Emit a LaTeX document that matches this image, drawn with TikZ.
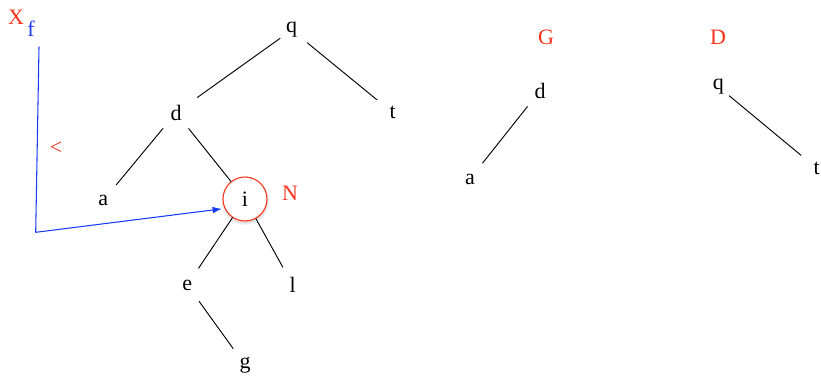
\documentclass[tikz,border=0pt]{standalone}
\usepackage{fontspec}
\setmainfont{Liberation Serif}
\usetikzlibrary{shadows,arrows.meta}

\definecolor{markred}{RGB}{250,50,25}
\definecolor{xfblue}{RGB}{25,60,250}

\begin{document}
\begin{tikzpicture}[x=0.75pt,y=-0.75pt,line cap=round,line join=round,
        font=\fontsize{16.5}{19}\selectfont,
        key/.style={circle,inner sep=0pt,minimum size=30pt},
        tag/.style={text=markred},
        branch/.style={line width=0.7pt}]
        \useasboundingbox (0,0) rectangle (821,376);

        % left tree
        \node[key] (q) at (291.7,30) {q};
        \node[key] (d) at (176,112.7) {d};
        \node[key] (t) at (392.7,112.7) {t};
        \node[key] (a) at (103.3,200.5) {a};
        \node[circle,draw=markred,line width=0.8pt,inner sep=0pt,minimum size=33pt,fill=white,
            circular drop shadow={shadow xshift=0pt,shadow yshift=-1pt,shadow scale=1.12,opacity=0.3}]
            (i) at (245,199) {i};
        \node[key] (e) at (187.3,285) {e};
        \node[key] (l) at (292.7,285) {l};
        \node[key] (g) at (245,365) {g};
        \node[tag] (N) at (290,193) {N};

        \draw[branch,shorten <=-4.5pt,shorten >=4.5pt] (q) -- (d);
        \draw[branch] (q) -- (t);
        \draw[branch] (d) -- (a);
        \draw[branch] (d) -- (i);
        \draw[branch] (i) -- (e);
        \draw[branch] (i) -- (l);
        \draw[branch] (e) -- (g);

        % X_f and the way down to i
        \node[tag] (X) at (16,17) {X};
        \node[text=xfblue] (f) at (31,29) {f};
        \node[tag] (less) at (56,148) {<};
        \coordinate (top) at (39,47);
        \coordinate (corner) at (35.7,232.3);
        \draw[xfblue,line width=0.8pt,-{Latex[length=7pt,width=5pt]},shorten >=2pt]
            (top) -- (corner) -- (i.205);

        % G and D
        \node[tag] (G) at (546,37) {G};
        \node[key] (gd) at (540,90.7) {d};
        \node[key] (ga) at (470,179) {a};
        \draw[branch] (gd) -- (ga);

        \node[tag] (D) at (718,37) {D};
        \node[key] (dq) at (718.3,86.7) {q};
        \node[key] (dt) at (816.7,168.3) {t};
        \draw[branch,shorten <=-4.5pt] (dq) -- (dt);
    \end{tikzpicture}
\end{document}
